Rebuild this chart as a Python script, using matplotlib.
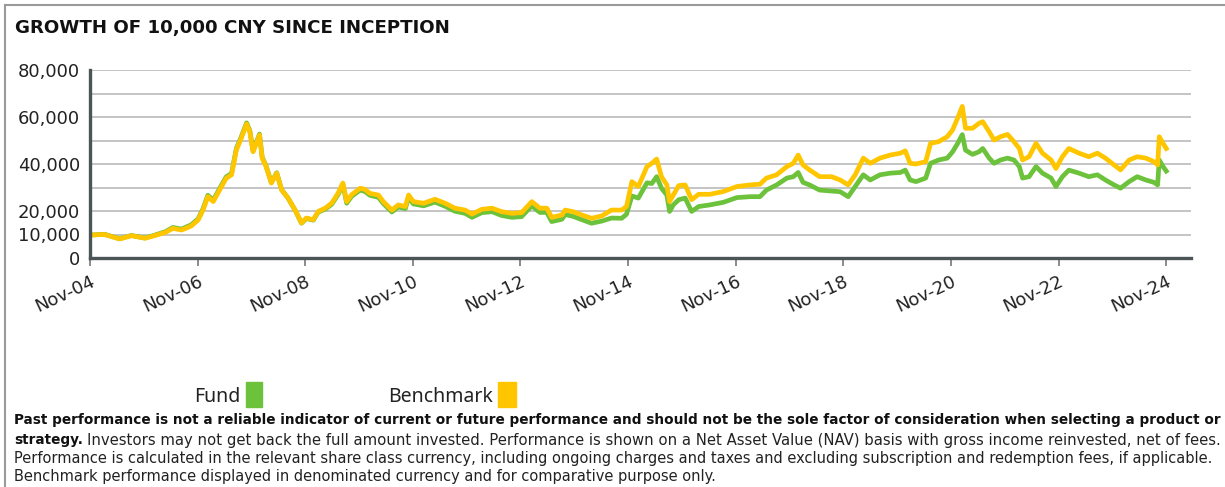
import matplotlib
matplotlib.use('Agg')
import matplotlib.pyplot as plt
from matplotlib.lines import Line2D
from matplotlib.patches import Rectangle

# decimal years
years = [2004.86, 2005.1, 2005.38, 2005.6, 2005.85, 2006.03, 2006.23, 2006.37, 2006.53, 2006.71,
         2006.84, 2006.93, 2007.02, 2007.12, 2007.24, 2007.36, 2007.46, 2007.55, 2007.64, 2007.74,
         2007.8, 2007.86, 2007.92, 2007.98, 2008.03, 2008.1, 2008.2, 2008.3, 2008.39, 2008.51,
         2008.64, 2008.76, 2008.85, 2008.98, 2009.07, 2009.2, 2009.32, 2009.44, 2009.53, 2009.6,
         2009.69, 2009.85,
         2009.94, 2010.03, 2010.19, 2010.28, 2010.44, 2010.56, 2010.69, 2010.75, 2010.84, 2011.03,
         2011.24, 2011.43, 2011.61, 2011.8, 2011.93, 2012.11, 2012.3, 2012.48, 2012.67, 2012.85,
         2013.04, 2013.19, 2013.32, 2013.41, 2013.6, 2013.66, 2013.81, 2013.97, 2014.15, 2014.34,
         2014.52, 2014.71, 2014.8, 2014.9, 2015.02,
         2015.18, 2015.27, 2015.36, 2015.45, 2015.55, 2015.6, 2015.67, 2015.77, 2015.89, 2016.01,
         2016.14, 2016.35, 2016.6, 2016.85, 2017.1, 2017.28, 2017.4, 2017.59, 2017.78, 2017.9,
         2017.99, 2018.08, 2018.2, 2018.39, 2018.61, 2018.77, 2018.92, 2019.05, 2019.2, 2019.33,
         2019.51, 2019.7, 2019.89, 2019.98, 2020.07,
         2020.18, 2020.36, 2020.45, 2020.6, 2020.76, 2020.86, 2020.95, 2021.04, 2021.1, 2021.23,
         2021.35, 2021.42, 2021.54, 2021.63, 2021.75, 2021.88, 2022.0, 2022.1, 2022.16, 2022.28,
         2022.41, 2022.53, 2022.69, 2022.78, 2022.9, 2023.02, 2023.21, 2023.39, 2023.55, 2023.7,
         2023.86, 2023.98, 2024.14, 2024.29, 2024.45, 2024.6, 2024.67, 2024.7, 2024.77, 2024.83]

fund = [9800, 10100, 8200, 9600, 8500, 9700, 11200, 13000, 12300, 14100,
        16700, 20900, 26700, 24600, 29600, 34500, 36000, 46600, 51500, 57500,
        54200, 45600, 49200, 52700, 42800, 39300, 32100, 36300, 29100, 25500,
        20400, 14800, 16800, 16100, 19500, 20800, 22800, 27000, 31200, 23300,
        26200, 28900,
        28300, 26700, 25800, 23200, 19600, 21700, 21000, 25800, 23000, 22200,
        23800, 22000, 19900, 19000, 17300, 19300, 19700, 18100, 17300, 17600,
        22200, 19400, 19400, 15500, 16500, 18500, 17700, 16300, 14800, 15700,
        17000, 16900, 18600, 26400, 25500,
        32000, 31700, 34600, 29700, 26800, 19800, 22600, 24800, 25500, 19800,
        21900, 22600, 23700, 25700, 26100, 26100, 28900, 31100, 34000, 34600,
        36400, 32200, 31100, 28900, 28500, 28200, 26100, 30400, 35400, 33200,
        35400, 36100, 36400, 37400, 33200,
        32500, 34000, 40300, 41700, 42500, 45200, 48600, 52500, 45900, 44100,
        45200, 46600, 42500, 40300, 41700, 42500, 41700, 38900, 34000, 34600,
        38900, 36100, 34000, 30400, 34600, 37400, 36100, 34600, 35400, 33200,
        31100, 29700, 32500, 34600, 33200, 32200, 31100, 41700, 38900, 37000]

benchmark = [9800, 10000, 8100, 9500, 8400, 9500, 10900, 12600, 11900, 13600,
             16200, 20400, 26100, 24000, 29000, 33900, 35400, 46000, 50900, 57000,
             53700, 45200, 48800, 52300, 42500, 39000, 31900, 36100, 29000, 25500,
             20500, 14900, 17000, 16300, 19800, 21200, 23300, 27600, 31900, 24000,
             26900, 29700,
             29200, 27500, 26800, 24000, 20400, 22600, 21900, 26800, 24000, 23300,
             25000, 23300, 21200, 20400, 18700, 20700, 21200, 19700, 19000, 19300,
             24000, 21200, 21200, 17300, 18300, 20400, 19700, 18300, 16900, 17900,
             20400, 20400, 21900, 32500, 30400,
             38900, 40300, 42100, 34600, 31100, 24000, 26800, 30800, 31100, 24800,
             27100, 27100, 28300, 30400, 31100, 31400, 34000, 35400, 38900, 40300,
             43800, 39600, 37500, 34600, 34600, 33200, 31100, 35400, 42500, 40300,
             42500, 43800, 44600, 45600, 40300,
             40000, 41000, 48800, 49500, 51600, 54500, 59400, 64500, 55200, 55200,
             57300, 58000, 53700, 50200, 51600, 52600, 49500, 46600, 41700, 43100,
             48800, 44600, 41700, 38100, 43100, 46600, 44600, 43100, 44600, 42500,
             39600, 37500, 41700, 43100, 42500, 41000, 39600, 51600, 48800, 46600]

tick_years = [2004.83 + 2 * k for k in range(11)]
tick_labels = ['Nov-04', 'Nov-06', 'Nov-08', 'Nov-10', 'Nov-12', 'Nov-14',
               'Nov-16', 'Nov-18', 'Nov-20', 'Nov-22', 'Nov-24']
y_ticks = [0, 10000, 20000, 40000, 60000, 80000]

GREEN = '#6dc23c'
YELLOW = '#ffc600'
W, H = 1225, 487

fig = plt.figure(figsize=(12.25, 4.87), dpi=100)
fig.patch.set_facecolor('white')

ax = fig.add_axes([90 / W, 1 - 258 / H, (1191 - 90) / W, (258 - 70) / H])
ax.plot(years, fund, color=GREEN, lw=3.4, solid_joinstyle='round', zorder=3)
ax.plot(years, benchmark, color=YELLOW, lw=3.4, solid_joinstyle='round', zorder=4)

ax.set_xlim(2004.83, 2025.29)
ax.set_ylim(0, 80000)
for v in range(10000, 80001, 10000):
    ax.axhline(v, color='#c4c4c4', lw=1.4, zorder=1)

for s in ['top', 'right']:
    ax.spines[s].set_visible(False)
for s in ['left', 'bottom']:
    ax.spines[s].set_color('#4b5457')
    ax.spines[s].set_linewidth(2.4)
    ax.spines[s].set_zorder(5)

ax.set_yticks(y_ticks)
ax.set_yticklabels([f'{v:,}' for v in y_ticks])
ax.tick_params(axis='y', length=0, pad=7, labelsize=13, labelcolor='#222222')
ax.set_xticks(tick_years)
ax.set_xticklabels(tick_labels, rotation=25, ha='right', rotation_mode='anchor')
ax.tick_params(axis='x', length=6, width=1.2, color='#777777', pad=4,
               labelsize=13, labelcolor='#222222')

renderer = fig.canvas.get_renderer()


def fit(t, width_px):
    for _ in range(3):
        w = t.get_window_extent(renderer).width
        t.set_fontsize(t.get_fontsize() * width_px / w)


# title
title = fig.text(15 / W, 1 - 28 / H, 'GROWTH OF 10,000 CNY SINCE INCEPTION',
                 fontsize=12, fontweight='bold', color='#111111', va='center', ha='left')
fit(title, 435)

# legend
fig.text(240 / W, 1 - 397 / H, 'Fund', fontsize=14, family='Noto Sans',
         color='#222222', ha='right', va='center')
fig.text(493 / W, 1 - 397 / H, 'Benchmark', fontsize=14, family='Noto Sans',
         color='#222222', ha='right', va='center')
fig.add_artist(Rectangle((246 / W, 1 - 407 / H), 16 / W, 25 / H,
                         transform=fig.transFigure, color=GREEN))
fig.add_artist(Rectangle((498 / W, 1 - 407 / H), 18 / W, 25 / H,
                         transform=fig.transFigure, color=YELLOW))

# footnote
line1 = fig.text(14 / W, 1 - 420 / H,
                 'Past performance is not a reliable indicator of current or future performance and '
                 'should not be the sole factor of consideration when selecting a product or',
                 fontsize=9, fontweight='bold', color='#111111', va='center', ha='left')
fit(line1, 1198)
fs_b = line1.get_fontsize()
line3 = fig.text(14 / W, 1 - 459 / H,
                 'Performance is calculated in the relevant share class currency, including ongoing '
                 'charges and taxes and excluding subscription and redemption fees, if applicable.',
                 fontsize=9, color='#222222', va='center', ha='left')
fit(line3, 1202)
fs = line3.get_fontsize()
bold2 = fig.text(14 / W, 1 - 440 / H, 'strategy.', fontsize=fs_b, fontweight='bold',
                 color='#111111', va='center', ha='left')
x2 = bold2.get_window_extent(renderer).x1 + 0.35 * fs
line2 = fig.text(x2 / W, 1 - 440 / H,
                 'Investors may not get back the full amount invested. Performance is shown on a Net '
                 'Asset Value (NAV) basis with gross income reinvested, net of fees.',
                 fontsize=fs, color='#222222', va='center', ha='left')
fit(line2, 1216 - x2)
fig.text(14 / W, 1 - 477 / H,
         'Benchmark performance displayed in denominated currency and for comparative purpose only.',
         fontsize=fs, color='#222222', va='center', ha='left')

# outer frame (top and left edges)
fig.add_artist(Line2D([5 / W, 1], [1 - 5 / H, 1 - 5 / H], transform=fig.transFigure,
                      color='#9a9a9a', lw=1.5))
fig.add_artist(Line2D([5 / W, 5 / W], [0, 1 - 5 / H], transform=fig.transFigure,
                      color='#9a9a9a', lw=1.5))

fig.savefig('out.png', dpi=100, facecolor='white')
